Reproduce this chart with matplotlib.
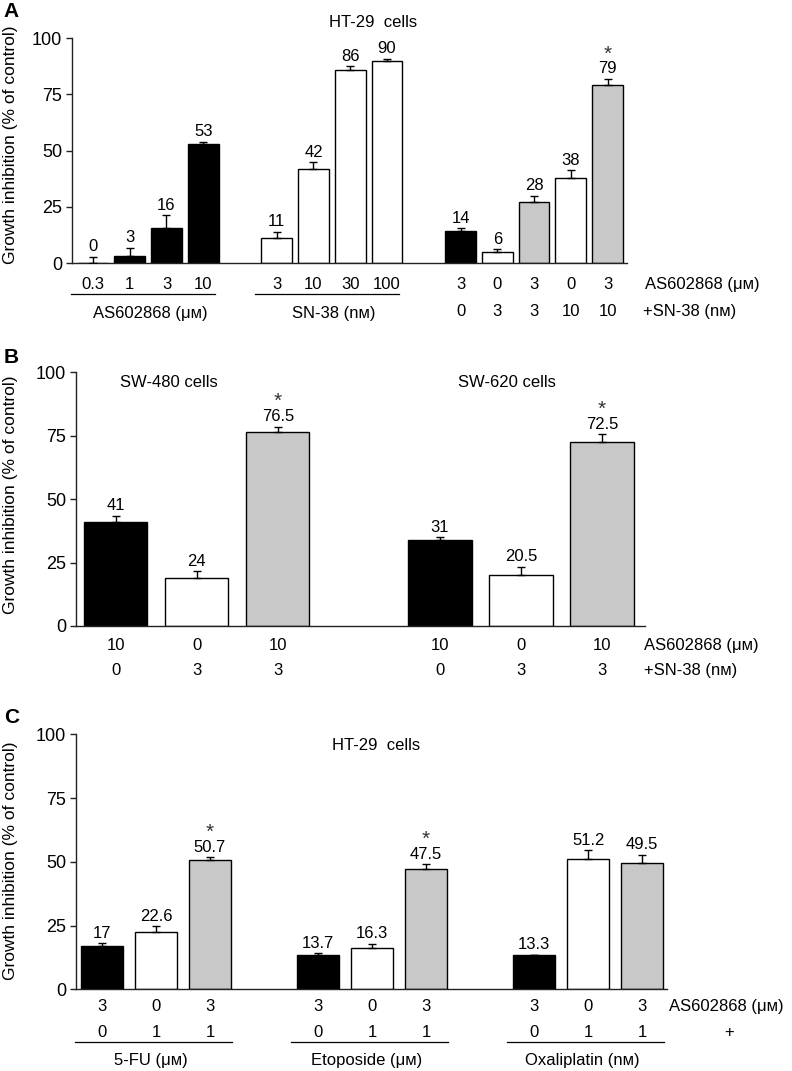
import numpy as np
import matplotlib
matplotlib.use("Agg")
import matplotlib.pyplot as plt

plt.rcParams['font.family'] = ['Liberation Sans', 'DejaVu Sans']
plt.rcParams['font.size'] = 12

# ---------------- data ----------------
# Panel A (HT-29 cells)
a_groups = [4, 4, 5]
a_vals = [0, 3, 15.7, 52.9, 11, 41.9, 85.9, 89.9, 14.2, 4.9, 27.1, 38, 79]
a_errs = [2.7, 3.8, 5.5, 1.0, 3.0, 2.8, 1.5, 0.8, 1.2, 1.3, 2.7, 3.2, 2.8]
a_labels = ['0', '3', '16', '53', '11', '42', '86', '90', '14', '6', '28', '38', '79']
a_kind = ['k', 'k', 'k', 'k', 'w', 'w', 'w', 'w', 'k', 'w', 'g', 'w', 'g']
a_stars = [12]
a_row1 = ['0.3', '1', '3', '10', '3', '10', '30', '100', '3', '0', '3', '0', '3']
a_row2 = ['', '', '', '', '', '', '', '', '0', '3', '3', '10', '10']
a_group_names = ['AS602868 (μᴍ)', 'SN-38 (nᴍ)']
a_title = 'HT-29  cells'

# Panel B (SW-480 / SW-620 cells)
b_groups = [3, 3]
b_vals = [41.0, 18.8, 76.6, 33.9, 20.2, 72.4]
b_errs = [2.5, 2.8, 2.0, 1.1, 3.2, 3.2]
b_labels = ['41', '24', '76.5', '31', '20.5', '72.5']
b_kind = ['k', 'w', 'g', 'k', 'w', 'g']
b_stars = [2, 5]
b_row1 = ['10', '0', '10', '10', '0', '10']
b_row2 = ['0', '3', '3', '0', '3', '3']
b_titles = ['SW-480 cells', 'SW-620 cells']

# Panel C (HT-29 cells)
c_groups = [3, 3, 3]
c_vals = [16.9, 22.6, 50.6, 13.6, 16.1, 47.3, 13.3, 51.1, 49.5]
c_errs = [1.1, 2.1, 1.2, 0.6, 1.7, 1.7, 0.3, 3.4, 3.2]
c_labels = ['17', '22.6', '50.7', '13.7', '16.3', '47.5', '13.3', '51.2', '49.5']
c_kind = ['k', 'w', 'g', 'k', 'w', 'g', 'k', 'w', 'g']
c_stars = [2, 5]
c_row1 = ['3', '0', '3', '3', '0', '3', '3', '0', '3']
c_row2 = ['0', '1', '1', '0', '1', '1', '0', '1', '1']
c_group_names = ['5-FU (μᴍ)', 'Etoposide (μᴍ)', 'Oxaliplatin (nᴍ)']
c_title = 'HT-29  cells'

COLORS = {'k': 'black', 'w': 'white', 'g': '#c8c8c8'}
FS = 12


def positions(groups):
    pos, start = [], 0
    for n in groups:
        pos.extend(range(start, start + n))
        start += n + 1
    return np.array(pos, dtype=float)


def draw(ax, groups, vals, errs, kind, labels, stars, width, xlim):
    pos = positions(groups)
    vals = np.array(vals, float)
    errs = np.array(errs, float)
    ax.bar(pos, vals, width, color=[COLORS[k] for k in kind],
           edgecolor='black', linewidth=1.0, zorder=2)
    ax.errorbar(pos, vals, yerr=[np.zeros_like(errs), errs], fmt='none',
                ecolor='black', elinewidth=1.0, capsize=3, capthick=1.0, zorder=3)
    for x, v, e, s in zip(pos, vals, errs, labels):
        ax.annotate(s, (x, v + e), xytext=(0, 4), textcoords='offset points',
                    ha='center', va='baseline', fontsize=FS)
    for i in stars:
        ax.annotate('*', (pos[i], vals[i] + errs[i]), xytext=(0, 14),
                    textcoords='offset points', ha='center', va='baseline',
                    fontsize=15, color='#333333')
    ax.set_xlim(*xlim)
    ax.set_ylim(0, 100)
    ax.set_yticks([0, 25, 50, 75, 100])
    ax.set_xticks([])
    for sp in ['top', 'right']:
        ax.spines[sp].set_visible(False)
    for sp in ['left', 'bottom']:
        ax.spines[sp].set_linewidth(1.0)
        ax.spines[sp].set_color('#222222')
    ax.tick_params(axis='y', length=4, width=1.0, pad=3, labelsize=13, color='#222222')
    return pos


fig = plt.figure(figsize=(7.92, 10.71), dpi=100)

# ---------------- Panel A ----------------
axA = fig.add_axes([0.0909, 0.7544, 0.7008, 0.2101])
pA = draw(axA, a_groups, a_vals, a_errs, a_kind, a_labels, a_stars, 0.84, (-0.57, 14.53))
for x, s in zip(pA, a_row1):
    axA.text(x, -11.7, s, ha='center', va='baseline', fontsize=FS, clip_on=False)
for x, s in zip(pA, a_row2):
    if s:
        axA.text(x, -23.6, s, ha='center', va='baseline', fontsize=FS, clip_on=False)
gstart = 0
for n, name in zip(a_groups[:2], a_group_names):
    x0, x1 = pA[gstart] - 0.6, pA[gstart + n - 1] + 0.33
    axA.plot([x0, x1], [-13.8, -13.8], color='black', lw=0.9, clip_on=False)
    axA.text((pA[gstart] + pA[gstart + n - 1]) / 2 + 0.05, -24.6, name,
             ha='center', va='baseline', fontsize=FS, clip_on=False)
    gstart += n
axA.text(15.02, -11.7, 'AS602868 (μᴍ)', ha='left', va='baseline', fontsize=FS, clip_on=False)
axA.text(14.97, -23.6, '+SN-38 (nᴍ)', ha='left', va='baseline', fontsize=FS, clip_on=False)
axA.text(7.62, 105, a_title, ha='center', va='baseline', fontsize=FS, clip_on=False)

# ---------------- Panel B ----------------
axB = fig.add_axes([0.0960, 0.4155, 0.7184, 0.2369])
pB = draw(axB, b_groups, b_vals, b_errs, b_kind, b_labels, b_stars, 0.78, (-0.49, 6.53))
for x, s in zip(pB, b_row1):
    axB.text(x, -9.5, s, ha='center', va='baseline', fontsize=FS, clip_on=False)
for x, s in zip(pB, b_row2):
    axB.text(x, -19.3, s, ha='center', va='baseline', fontsize=FS, clip_on=False)
axB.text(6.52, -9.5, 'AS602868 (μᴍ)', ha='left', va='baseline', fontsize=FS, clip_on=False)
axB.text(6.52, -19.3, '+SN-38 (nᴍ)', ha='left', va='baseline', fontsize=FS, clip_on=False)
axB.text(0.65, 94.1, b_titles[0], ha='center', va='baseline', fontsize=FS, clip_on=False)
axB.text(4.83, 94.1, b_titles[1], ha='center', va='baseline', fontsize=FS, clip_on=False)

# ---------------- Panel C ----------------
axC = fig.add_axes([0.0960, 0.0763, 0.7462, 0.2381])
pC = draw(axC, c_groups, c_vals, c_errs, c_kind, c_labels, c_stars, 0.78, (-0.48, 10.46))
for x, s in zip(pC, c_row1):
    axC.text(x, -8.5, s, ha='center', va='baseline', fontsize=FS, clip_on=False)
for x, s in zip(pC, c_row2):
    axC.text(x, -18.6, s, ha='center', va='baseline', fontsize=FS, clip_on=False)
gstart = 0
for n, name in zip(c_groups, c_group_names):
    x0, x1 = pC[gstart] - 0.5, pC[gstart + n - 1] + 0.4
    axC.plot([x0, x1], [-20.5, -20.5], color='black', lw=0.9, clip_on=False)
    axC.text((pC[gstart] + pC[gstart + n - 1]) / 2 - 0.1, -29.7, name,
             ha='center', va='baseline', fontsize=FS, clip_on=False)
    gstart += n
axC.text(10.5, -8.5, 'AS602868 (μᴍ)', ha='left', va='baseline', fontsize=FS, clip_on=False)
axC.text(11.61, -18.6, '+', ha='center', va='baseline', fontsize=FS, clip_on=False)
axC.text(5.08, 93.8, c_title, ha='center', va='baseline', fontsize=FS, clip_on=False)

# ---------------- y labels & panel letters ----------------
ylab = 'Growth inhibition (% of control)'
for ycen in [145, 495, 861]:
    fig.text(11 / 792, 1 - ycen / 1071, ylab, rotation=90, ha='center', va='center',
             fontsize=12.5)
for letter, (xp, yp) in zip(['A', 'B', 'C'], [(3, 17), (4, 363), (4, 723)]):
    fig.text(xp / 792, 1 - yp / 1071, letter, ha='left', va='baseline',
             fontsize=15, fontweight='bold')

fig.savefig('out.png', dpi=100)
